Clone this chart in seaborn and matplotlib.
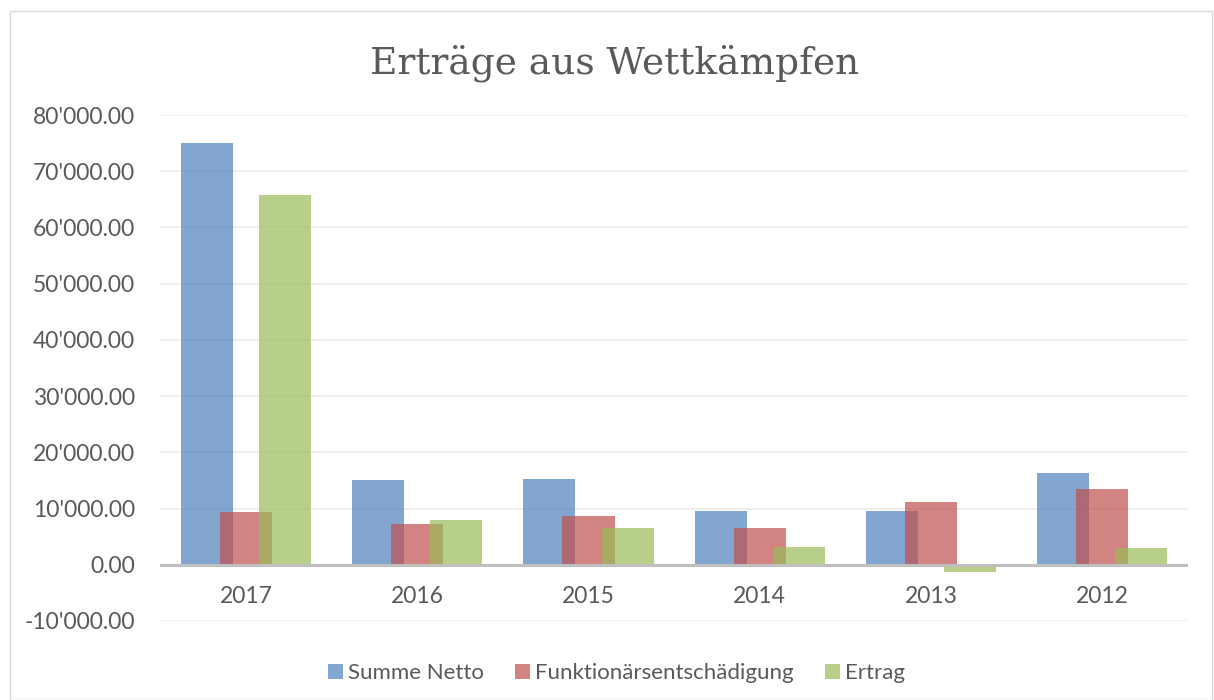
import matplotlib
matplotlib.use("Agg")
import matplotlib.pyplot as plt
import matplotlib.ticker as mticker
from matplotlib.patches import Rectangle
import seaborn as sns
import pandas as pd

years = ["2017", "2016", "2015", "2014", "2013", "2012"]
series = ["Summe Netto", "Funktionärsentschädigung", "Ertrag"]
summe_netto = [75000, 15100, 15200, 9650, 9650, 16400]
funktionaer = [9450, 7300, 8700, 6600, 11100, 13500]
ertrag = [65700, 8000, 6600, 3100, -1250, 2900]
colors = ["#4F81BD", "#C0504D", "#9BBB59"]
yticks = list(range(-10000, 80001, 10000))

df = pd.DataFrame({
    "Jahr": years * 3,
    "Serie": [s for s in series for _ in years],
    "Wert": summe_netto + funktionaer + ertrag,
})

sns.set_theme(style="white")
plt.rcParams["font.family"] = ["Lato", "DejaVu Sans"]

fig = plt.figure(figsize=(12.14, 7.0), dpi=100)
ax = fig.add_axes([0.132, 0.1129, 0.8466, 0.7228])

sns.barplot(data=df, x="Jahr", y="Wert", hue="Serie", order=years,
            hue_order=series, palette=colors, alpha=0.7, saturation=1,
            errorbar=None, dodge=True, ax=ax, legend=True,
            edgecolor="none", linewidth=0)

bw = 0.304
step = 0.228
for i, cont in enumerate(ax.containers):
    for j, patch in enumerate(cont.patches):
        c = j + (i - 1) * step
        patch.set_x(c - bw / 2)
        patch.set_width(bw)
        patch.set_zorder(2 + i)

ax.set_xlim(-0.5, len(years) - 0.5)
ax.set_ylim(-10000, 80000)
ax.set_yticks(yticks)
ax.yaxis.set_major_formatter(mticker.FuncFormatter(
    lambda v, p: f"{v:,.2f}".replace(",", "'")))
ax.grid(axis="y", color="#ececec", linewidth=1.2, zorder=0)
ax.set_axisbelow(True)
for s in ax.spines.values():
    s.set_visible(False)
ax.axhline(0, color="#bfbfbf", linewidth=2.2, zorder=6)
ax.tick_params(axis="y", labelsize=16.5, labelcolor="#595959", length=0, pad=18)
ax.set_xticks(range(len(years)))
ax.set_xticklabels([])
ax.tick_params(axis="x", length=0)
for i, y in enumerate(years):
    ax.annotate(y, xy=(i, 0), xytext=(0, -22.5), textcoords="offset points",
                ha="center", va="center", fontsize=16.5, color="#595959")
ax.set_xlabel("")
ax.set_ylabel("")

fig.text(0.5059, 0.91, "Erträge aus Wettkämpfen", ha="center", va="center",
         fontsize=27, color="#595959", family=["DejaVu Serif"])

handles, labels = ax.get_legend_handles_labels()
ax.get_legend().remove()
fig.legend(handles, labels, loc="center", bbox_to_anchor=(0.508, 0.038),
           ncol=3, frameon=False, fontsize=16, handlelength=0.65,
           handleheight=0.65, handletextpad=0.25, columnspacing=1.4,
           labelcolor="#595959")

fig.patches.append(Rectangle((0.008, 0.0), 0.99, 0.985, transform=fig.transFigure,
                             fill=False, edgecolor="#d9d9d9", linewidth=1))

fig.savefig("out.png", dpi=100)
